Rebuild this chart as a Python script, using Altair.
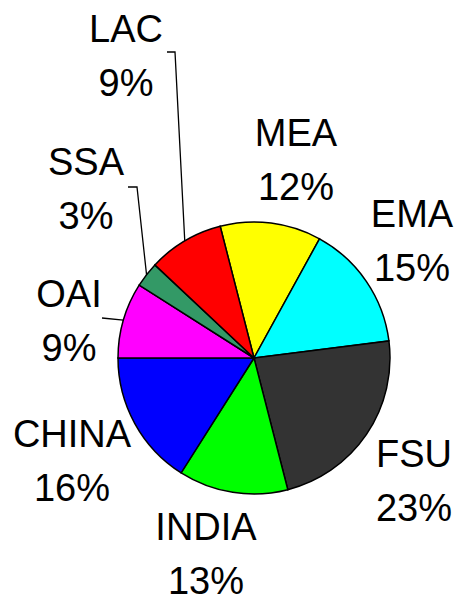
import math
import altair as alt
import pandas as pd

# ---- data ----
regions = ["MEA", "EMA", "FSU", "INDIA", "CHINA", "OAI", "SSA", "LAC"]
shares = [12, 15, 23, 13, 16, 9, 3, 9]
colors = ["#FFFF00", "#00FFFF", "#333333", "#00FF00", "#0000FF", "#FF00FF", "#339966", "#FF0000"]

# ---- layout (chart coordinates, origin = plot top-left) ----
CX, CY, R = 246, 350, 136
START = -math.radians(14.4)
label_anchor = {
    "LAC": (118, 34), "SSA": (78, 167), "MEA": (288, 138), "EMA": (404, 219),
    "OAI": (61, 299), "CHINA": (64, 439), "INDIA": (198, 532), "FSU": (406, 459),
}
leader_points = {
    "LAC": [(159, 44), (167, 44)],
    "SSA": [(120, 179), (129, 179)],
    "OAI": [(94, 310)],
}

total = sum(shares)
pie_df = pd.DataFrame({"region": regions, "value": shares, "idx": list(range(len(regions)))})

lab_df = pd.DataFrame({
    "text": [f"{r}\n{v}%" for r, v in zip(regions, shares)],
    "lx": [label_anchor[r][0] for r in regions],
    "ly": [label_anchor[r][1] for r in regions],
})

# leader lines: from label elbow to slice edge at mid-angle
rows = []
cum = 0
for r, v in zip(regions, shares):
    mid = START + 2 * math.pi * (cum + v / 2) / total
    cum += v
    if r in leader_points:
        pts = leader_points[r] + [(CX + R * math.sin(mid), CY - R * math.cos(mid))]
        for k, (px, py) in enumerate(pts):
            rows.append({"region": r, "k": k, "px": px, "py": py})
lead_df = pd.DataFrame(rows)

pie = alt.Chart(pie_df).mark_arc(
    outerRadius=R, stroke="black", strokeWidth=1.5
).encode(
    theta=alt.Theta("value:Q", stack=True,
                    scale=alt.Scale(range=[START, START + 2 * math.pi])),
    order=alt.Order("idx:Q"),
    color=alt.Color("region:N", scale=alt.Scale(domain=regions, range=colors), legend=None),
    x=alt.value(CX),
    y=alt.value(CY),
)

leaders = alt.Chart(lead_df).mark_line(color="black", strokeWidth=1.3).encode(
    x=alt.X("px:Q", scale=None),
    y=alt.Y("py:Q", scale=None),
    detail="region:N",
    order="k:Q",
)

labels = alt.Chart(lab_df).mark_text(
    font="Liberation Sans", fontSize=38, align="center", baseline="alphabetic",
    lineBreak="\n", lineHeight=54, color="black",
).encode(
    x=alt.X("lx:Q", scale=None),
    y=alt.Y("ly:Q", scale=None),
    text="text:N",
)

chart = alt.layer(pie, leaders, labels).properties(
    width=446, height=594, padding=0, autosize=alt.AutoSizeParams(type="none")
).configure_view(stroke=None)

chart.save("out.html", embed_options={"renderer": "svg", "actions": False})
